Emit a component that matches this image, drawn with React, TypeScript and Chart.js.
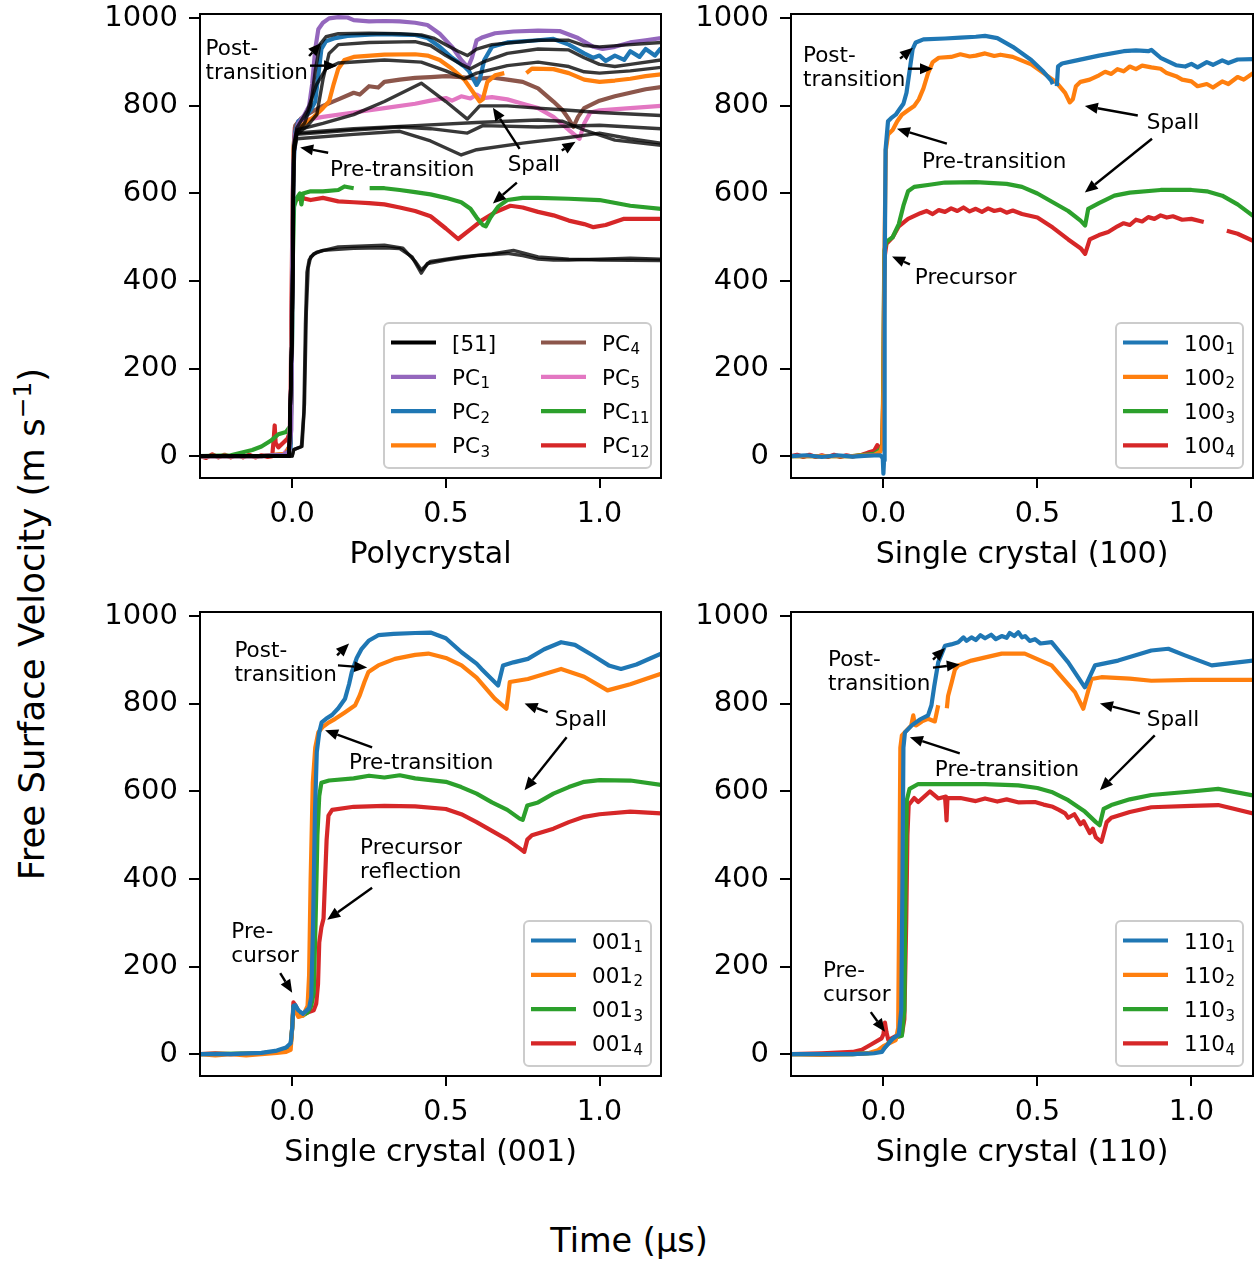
import React, { useEffect, useRef } from "react";
import { Chart, registerables } from "chart.js";
Chart.register(...registerables);

type Pt = [number, number | null];

// ---------- axes ----------
const xTicks = [0, 0.5, 1.0];
const yTicks = [0, 200, 400, 600, 800, 1000];
const xRange: [number, number] = [-0.3, 1.2];
const yRange: [number, number] = [-50, 1010];
const panelTitles = ["Polycrystal", "Single crystal (100)", "Single crystal (001)", "Single crystal (110)"];

// ---------- Polycrystal: literature traces [51] ----------
const ref51a: Pt[] = [[-0.3,0],[-0.01,0],[0.0,300],[0.005,700],[0.015,740],[0.04,760],[0.06,800],[0.075,880],[0.09,940],[0.11,958],[0.15,965],[0.25,966],[0.35,965],[0.42,962],[0.46,955],[0.5,940],[0.54,925],[0.57,915],[0.6,930],[0.65,940],[0.72,945],[0.8,950],[0.9,950],[0.95,938],[1.0,935],[1.1,940],[1.2,945]];
const ref51b: Pt[] = [[-0.3,0],[-0.01,0],[0.0,300],[0.005,690],[0.015,735],[0.05,755],[0.08,780],[0.1,860],[0.12,920],[0.15,940],[0.25,945],[0.4,947],[0.45,938],[0.5,915],[0.55,895],[0.58,885],[0.62,900],[0.7,920],[0.8,930],[0.9,928],[0.95,910],[1.0,895],[1.05,890],[1.1,895],[1.2,905]];
const ref51c: Pt[] = [[-0.3,0],[-0.01,0],[0.0,300],[0.005,700],[0.015,745],[0.1,760],[0.2,780],[0.3,810],[0.42,852],[0.5,810],[0.57,770],[0.61,800],[0.7,800],[0.8,795],[0.9,790],[1.0,785],[1.2,778]];
const ref51d: Pt[] = [[-0.3,0],[-0.01,0],[0.0,300],[0.005,700],[0.015,735],[0.2,745],[0.35,752],[0.45,748],[0.57,738],[0.62,755],[0.8,752],[1.0,756],[1.2,748]];
const ref51e: Pt[] = [[-0.3,0],[-0.01,0],[0.0,300],[0.005,690],[0.015,725],[0.2,735],[0.35,742],[0.45,720],[0.55,688],[0.6,700],[0.75,715],[0.9,728],[1.0,738],[1.1,725],[1.2,715]];
const ref51f: Pt[] = [[-0.3,0],[-0.01,0],[0.0,300],[0.005,700],[0.015,738],[0.2,748],[0.4,755],[0.6,762],[0.8,768],[0.88,765],[0.95,745],[1.05,722],[1.2,710]];
const ref51g: Pt[] = [[-0.3,0],[-0.01,0],[0.0,300],[0.005,710],[0.015,750],[0.05,790],[0.08,850],[0.11,885],[0.15,898],[0.3,905],[0.42,900],[0.5,880],[0.56,862],[0.6,875],[0.7,892],[0.8,900],[0.9,890],[0.95,878],[1.0,875],[1.1,880],[1.2,888]];
const ref51h: Pt[] = [[-0.3,0],[0.0,0],[0.005,15],[0.03,22],[0.038,100],[0.043,300],[0.048,420],[0.055,448],[0.07,462],[0.1,470],[0.2,475],[0.3,476],[0.35,474],[0.39,455],[0.42,418],[0.44,440],[0.5,448],[0.6,458],[0.7,463],[0.75,458],[0.8,450],[0.85,448],[0.9,448],[1.0,450],[1.1,452],[1.2,450]];
const ref51i: Pt[] = [[-0.3,0],[0.0,0],[0.005,15],[0.032,22],[0.04,120],[0.046,330],[0.052,430],[0.06,455],[0.08,466],[0.15,478],[0.3,482],[0.36,475],[0.4,445],[0.42,425],[0.45,445],[0.55,455],[0.65,462],[0.72,470],[0.8,455],[0.9,450],[1.0,448],[1.2,447]];

// ---------- Polycrystal: this work ----------
const pc1: Pt[] = [[-0.3,0],[-0.1,0],[-0.03,3],[-0.01,10],[-0.003,60],[0.0,400],[0.003,650],[0.008,730],[0.02,760],[0.04,780],[0.055,800],[0.065,850],[0.075,930],[0.085,975],[0.1,990],[0.12,1000],[0.15,1003],[0.18,1002],[0.2,996],[0.25,993],[0.3,994],[0.35,993],[0.4,990],[0.44,985],[0.48,965],[0.52,935],[0.55,905],[0.572,888],[0.585,910],[0.6,950],[0.62,957],[0.66,966],[0.72,970],[0.8,972],[0.87,971],[0.93,955],[0.98,935],[1.01,930],[1.05,935],[1.1,945],[1.15,950],[1.2,955]];
const pc2: Pt[] = [[-0.3,0],[-0.1,0],[-0.02,3],[-0.005,20],[0.0,300],[0.004,650],[0.01,740],[0.02,765],[0.04,775],[0.06,790],[0.075,810],[0.085,870],[0.095,930],[0.11,948],[0.14,955],[0.18,960],[0.25,963],[0.3,964],[0.35,963],[0.4,962],[0.44,955],[0.48,935],[0.52,910],[0.56,890],[0.575,880],[0.6,848],[0.61,860],[0.625,905],[0.65,935],[0.7,945],[0.8,950],[0.85,953],[0.9,940],[0.95,920],[0.98,910],[1.0,915],[1.02,903],[1.05,915],[1.08,905],[1.1,925],[1.13,912],[1.15,930],[1.18,915],[1.2,932]];
const pc3: Pt[] = [[-0.3,0],[-0.1,0],[-0.02,5],[-0.005,30],[0.0,350],[0.003,650],[0.006,720],[0.015,745],[0.04,760],[0.07,775],[0.1,795],[0.12,810],[0.135,850],[0.15,885],[0.17,905],[0.2,912],[0.3,917],[0.4,918],[0.44,915],[0.48,905],[0.52,885],[0.56,860],[0.59,830],[0.61,810],[0.62,815],[0.635,855],[0.66,870],[0.69,875],[0.7,null],[0.76,null],[0.762,875],[0.78,885],[0.85,884],[0.9,875],[0.95,860],[1.0,855],[1.05,858],[1.1,862],[1.15,868],[1.2,872]];
const pc4: Pt[] = [[-0.3,0],[-0.1,0],[-0.02,5],[-0.005,30],[0.0,400],[0.004,700],[0.01,755],[0.03,772],[0.06,785],[0.1,800],[0.15,815],[0.2,830],[0.22,826],[0.25,845],[0.28,842],[0.3,855],[0.35,860],[0.4,864],[0.45,866],[0.5,868],[0.55,866],[0.6,862],[0.65,865],[0.7,860],[0.75,855],[0.8,840],[0.85,810],[0.88,790],[0.9,770],[0.915,752],[0.93,775],[0.95,795],[1.0,812],[1.05,822],[1.1,830],[1.15,838],[1.2,843]];
const pc5: Pt[] = [[-0.3,0],[-0.1,0],[-0.03,3],[-0.01,20],[-0.002,200],[0.002,600],[0.008,750],[0.02,765],[0.1,775],[0.2,785],[0.3,795],[0.4,805],[0.45,812],[0.5,818],[0.52,812],[0.55,822],[0.58,817],[0.6,826],[0.62,818],[0.65,820],[0.7,815],[0.75,805],[0.8,795],[0.85,775],[0.9,745],[0.935,725],[0.95,760],[0.97,785],[1.0,790],[1.1,795],[1.2,800]];
const pc11: Pt[] = [[-0.3,0],[-0.2,2],[-0.13,14],[-0.1,22],[-0.07,35],[-0.045,50],[-0.02,55],[-0.005,70],[-0.002,150],[0.002,450],[0.006,570],[0.015,590],[0.025,600],[0.03,575],[0.035,600],[0.06,605],[0.1,605],[0.15,608],[0.17,616],[0.2,612],[0.21,null],[0.25,null],[0.252,612],[0.3,612],[0.35,608],[0.4,603],[0.45,598],[0.5,590],[0.55,580],[0.58,565],[0.6,545],[0.62,528],[0.63,525],[0.645,545],[0.67,570],[0.7,585],[0.75,590],[0.8,590],[0.9,588],[1.0,585],[1.1,572],[1.2,565]];
const pc12: Pt[] = [[-0.3,0],[-0.28,-4],[-0.26,4],[-0.24,-3],[-0.22,3],[-0.2,-3],[-0.18,3],[-0.16,-3],[-0.14,3],[-0.12,-3],[-0.1,2],[-0.08,-2],[-0.065,0],[-0.06,40],[-0.057,70],[-0.054,30],[-0.045,20],[-0.03,30],[-0.015,40],[-0.006,60],[-0.003,300],[0.0,500],[0.004,570],[0.01,585],[0.03,590],[0.06,585],[0.1,590],[0.15,582],[0.2,580],[0.25,578],[0.3,575],[0.35,568],[0.4,560],[0.45,548],[0.5,520],[0.54,496],[0.58,518],[0.62,540],[0.66,557],[0.71,572],[0.75,568],[0.8,558],[0.85,550],[0.9,538],[0.95,530],[0.98,523],[1.02,528],[1.08,542],[1.2,542]];

// ---------- Single crystal (100) ----------
const s100a: Pt[] = [[-0.3,0],[-0.25,2],[-0.2,-2],[-0.15,2],[-0.1,-1],[-0.05,1],[-0.01,2],[-0.002,-5],[0.0,-40],[0.002,-10],[0.004,400],[0.007,700],[0.015,765],[0.025,772],[0.04,780],[0.05,790],[0.065,805],[0.075,830],[0.085,880],[0.095,930],[0.105,945],[0.13,952],[0.2,954],[0.25,956],[0.3,958],[0.33,960],[0.37,955],[0.42,935],[0.48,905],[0.52,878],[0.545,858],[0.55,850],[0.553,null],[0.562,null],[0.563,845],[0.567,890],[0.58,897],[0.62,903],[0.7,915],[0.78,925],[0.82,927],[0.86,925],[0.87,928],[0.9,910],[0.95,893],[0.98,890],[1.0,896],[1.02,888],[1.05,900],[1.07,894],[1.1,904],[1.12,898],[1.15,906],[1.2,907]];
const s100b: Pt[] = [[-0.3,0],[-0.1,0],[-0.03,3],[-0.01,10],[-0.003,25],[0.0,150],[0.004,500],[0.008,700],[0.015,735],[0.03,745],[0.045,765],[0.06,780],[0.08,790],[0.1,800],[0.115,815],[0.13,840],[0.145,875],[0.16,900],[0.18,910],[0.22,912],[0.25,918],[0.28,913],[0.3,915],[0.33,920],[0.36,914],[0.38,917],[0.42,912],[0.48,895],[0.52,875],[0.56,855],[0.59,830],[0.605,808],[0.615,815],[0.625,845],[0.64,855],[0.67,860],[0.7,870],[0.72,878],[0.74,873],[0.76,884],[0.78,879],[0.8,890],[0.82,884],[0.84,892],[0.87,888],[0.9,885],[0.92,875],[0.95,868],[0.97,860],[1.0,856],[1.02,845],[1.05,850],[1.07,842],[1.1,856],[1.12,850],[1.15,866],[1.17,860],[1.2,875]];
const s100c: Pt[] = [[-0.3,0],[-0.1,0],[-0.03,5],[-0.01,15],[-0.003,25],[0.0,200],[0.003,470],[0.01,490],[0.03,500],[0.05,530],[0.065,572],[0.08,605],[0.1,615],[0.15,620],[0.2,625],[0.3,626],[0.4,622],[0.45,615],[0.5,600],[0.55,580],[0.6,560],[0.64,538],[0.655,527],[0.665,565],[0.7,578],[0.75,595],[0.8,602],[0.9,608],[1.0,608],[1.05,605],[1.1,595],[1.15,575],[1.2,549]];
const s100d: Pt[] = [[-0.3,0],[-0.28,3],[-0.26,-2],[-0.24,3],[-0.22,-2],[-0.2,2],[-0.18,-2],[-0.16,3],[-0.14,-2],[-0.12,2],[-0.1,-1],[-0.07,3],[-0.05,8],[-0.03,12],[-0.02,25],[-0.012,18],[-0.004,25],[0.0,150],[0.003,450],[0.01,485],[0.03,500],[0.05,525],[0.08,542],[0.12,555],[0.14,560],[0.16,553],[0.18,562],[0.2,558],[0.22,566],[0.24,560],[0.26,568],[0.28,559],[0.3,565],[0.32,558],[0.34,566],[0.36,560],[0.38,563],[0.4,556],[0.42,561],[0.45,553],[0.5,545],[0.55,522],[0.6,495],[0.64,475],[0.655,462],[0.67,495],[0.7,505],[0.73,512],[0.76,525],[0.78,532],[0.8,528],[0.82,540],[0.84,536],[0.86,546],[0.88,542],[0.9,550],[0.92,545],[0.94,548],[0.97,540],[1.0,542],[1.04,535],[1.045,null],[1.11,null],[1.115,515],[1.15,508],[1.2,492]];

// ---------- Single crystal (001) ----------
const s001a: Pt[] = [[-0.3,0],[-0.2,0],[-0.1,3],[-0.05,8],[-0.02,15],[-0.005,25],[0.0,60],[0.004,110],[0.01,112],[0.02,100],[0.035,92],[0.055,105],[0.062,130],[0.068,300],[0.074,550],[0.08,690],[0.088,735],[0.096,758],[0.11,766],[0.13,775],[0.15,790],[0.172,812],[0.185,845],[0.194,873],[0.21,905],[0.226,926],[0.25,945],[0.28,957],[0.33,960],[0.4,962],[0.45,963],[0.5,950],[0.551,918],[0.6,892],[0.616,880],[0.67,842],[0.686,888],[0.72,895],[0.767,903],[0.82,925],[0.875,941],[0.92,935],[0.98,910],[1.03,888],[1.07,880],[1.12,890],[1.2,915]];
const s001b: Pt[] = [[-0.3,0],[-0.25,-3],[-0.2,0],[-0.15,-3],[-0.1,0],[-0.05,3],[-0.02,5],[-0.005,10],[0.0,60],[0.004,105],[0.01,100],[0.02,85],[0.035,88],[0.05,110],[0.055,180],[0.06,400],[0.067,620],[0.075,700],[0.085,735],[0.1,748],[0.12,758],[0.14,766],[0.17,780],[0.205,797],[0.22,820],[0.235,850],[0.248,873],[0.28,888],[0.334,903],[0.4,912],[0.443,915],[0.5,905],[0.551,888],[0.6,860],[0.659,812],[0.697,789],[0.703,820],[0.708,850],[0.767,857],[0.875,880],[0.95,862],[1.026,831],[1.1,845],[1.2,869]];
const s001c: Pt[] = [[-0.3,0],[-0.1,2],[-0.05,6],[-0.02,12],[-0.005,20],[0.0,60],[0.004,108],[0.01,110],[0.02,95],[0.035,88],[0.05,95],[0.062,110],[0.07,140],[0.076,300],[0.082,500],[0.088,590],[0.095,620],[0.12,625],[0.2,630],[0.25,636],[0.3,632],[0.35,637],[0.4,630],[0.5,622],[0.55,610],[0.6,595],[0.65,575],[0.7,558],[0.74,538],[0.75,535],[0.765,568],[0.8,575],[0.85,595],[0.9,610],[0.95,622],[1.0,626],[1.1,625],[1.2,615]];
const s001d: Pt[] = [[-0.3,0],[-0.25,2],[-0.2,0],[-0.1,2],[-0.05,6],[-0.02,12],[-0.005,20],[0.0,60],[0.004,118],[0.01,112],[0.02,98],[0.035,90],[0.05,95],[0.07,100],[0.078,115],[0.084,160],[0.088,255],[0.095,290],[0.102,310],[0.107,400],[0.112,490],[0.118,545],[0.13,558],[0.2,565],[0.3,567],[0.4,566],[0.5,560],[0.55,548],[0.6,530],[0.65,510],[0.7,490],[0.74,470],[0.755,462],[0.765,490],[0.78,500],[0.85,515],[0.9,530],[0.95,542],[1.0,548],[1.1,554],[1.2,550]];

// ---------- Single crystal (110) ----------
const s110a: Pt[] = [[-0.3,0],[-0.1,0],[-0.03,2],[-0.005,5],[0.005,15],[0.03,35],[0.05,45],[0.058,100],[0.062,400],[0.065,700],[0.07,735],[0.092,751],[0.12,765],[0.145,774],[0.156,797],[0.165,840],[0.178,895],[0.2,933],[0.22,936],[0.243,941],[0.26,952],[0.27,944],[0.286,952],[0.3,946],[0.315,957],[0.33,950],[0.35,958],[0.365,948],[0.384,955],[0.4,951],[0.41,962],[0.425,955],[0.438,964],[0.45,952],[0.46,955],[0.475,944],[0.492,948],[0.51,938],[0.546,941],[0.6,895],[0.654,838],[0.687,888],[0.762,899],[0.87,922],[0.925,926],[0.979,911],[1.066,888],[1.2,899]];
const s110b: Pt[] = [[-0.3,0],[-0.2,-2],[-0.1,0],[-0.05,2],[-0.02,8],[0.0,18],[0.02,25],[0.04,32],[0.048,60],[0.052,400],[0.055,700],[0.06,728],[0.08,743],[0.09,750],[0.097,774],[0.102,752],[0.107,751],[0.125,760],[0.145,766],[0.167,760],[0.178,797],[0.179,null],[0.205,null],[0.206,790],[0.21,818],[0.222,850],[0.232,878],[0.243,888],[0.286,899],[0.384,915],[0.459,915],[0.546,888],[0.622,827],[0.649,789],[0.665,830],[0.676,857],[0.708,861],[0.8,858],[0.87,853],[1.0,855],[1.2,855]];
const s110c: Pt[] = [[-0.3,0],[-0.1,0],[-0.03,3],[0.0,12],[0.02,28],[0.04,38],[0.06,42],[0.068,100],[0.072,400],[0.076,580],[0.085,606],[0.113,617],[0.2,617],[0.33,617],[0.438,614],[0.5,608],[0.546,599],[0.6,580],[0.654,554],[0.69,530],[0.702,523],[0.715,560],[0.74,569],[0.8,582],[0.87,592],[1.0,600],[1.087,606],[1.2,591]];
const s110d: Pt[] = [[-0.3,0],[-0.2,2],[-0.1,5],[-0.07,10],[-0.04,22],[-0.006,36],[0.0,45],[0.005,72],[0.01,50],[0.016,32],[0.037,40],[0.06,45],[0.068,80],[0.074,300],[0.078,500],[0.082,569],[0.1,585],[0.113,576],[0.151,600],[0.178,584],[0.2,588],[0.203,560],[0.205,534],[0.208,585],[0.25,585],[0.3,578],[0.33,584],[0.37,577],[0.4,582],[0.44,575],[0.492,576],[0.52,570],[0.55,565],[0.57,558],[0.59,550],[0.6,540],[0.62,548],[0.64,525],[0.65,532],[0.67,505],[0.68,515],[0.69,495],[0.708,485],[0.725,530],[0.74,540],[0.8,553],[0.87,564],[1.0,567],[1.087,569],[1.2,550]];

// ---------- styles ----------
const C = { blue: "#1f77b4", orange: "#ff7f0e", green: "#2ca02c", red: "#d62728", purple: "#9467bd", brown: "#8c564b", pink: "#e377c2", black: "#000000" };
const FONT = '"DejaVu Sans", "Noto Sans", sans-serif';

type Series = { data: Pt[]; color: string; width: number };
type LegendItem = { color: string; base: string; sub: string };
type Note = { text: string[]; at: [number, number] };
type Arrow = { from: [number, number]; to: [number, number] };
type PanelCfg = {
  plot: { left: number; top: number; w: number; h: number };
  title: string; series: Series[]; legend: LegendItem[]; cols: number; notes: Note[]; arrows: Arrow[];
};

const blk = (d: Pt[]): Series => ({ data: d, color: "rgba(0,0,0,0.78)", width: 3.4 });
const ln = (d: Pt[], c: string): Series => ({ data: d, color: c, width: 4.2 });

const panels: PanelCfg[] = [
  {
    plot: { left: 200, top: 14, w: 461, h: 464 }, title: panelTitles[0], cols: 2,
    series: [blk(ref51a), blk(ref51b), blk(ref51c), blk(ref51d), blk(ref51e), blk(ref51f), blk(ref51g), blk(ref51h), blk(ref51i),
      ln(pc1, C.purple), ln(pc2, C.blue), ln(pc3, C.orange), ln(pc4, C.brown), ln(pc5, C.pink), ln(pc11, C.green), ln(pc12, C.red)],
    legend: [
      { color: C.black, base: "[51]", sub: "" }, { color: C.purple, base: "PC", sub: "1" }, { color: C.blue, base: "PC", sub: "2" }, { color: C.orange, base: "PC", sub: "3" },
      { color: C.brown, base: "PC", sub: "4" }, { color: C.pink, base: "PC", sub: "5" }, { color: C.green, base: "PC", sub: "11" }, { color: C.red, base: "PC", sub: "12" },
    ],
    notes: [{ text: ["Post-", "transition"], at: [-0.282, 930] }, { text: ["Pre-transition"], at: [0.123, 652] }, { text: ["Spall"], at: [0.701, 664] }],
    arrows: [
      { from: [0.055, 914], to: [0.094, 944] }, { from: [0.058, 892], to: [0.146, 892] }, { from: [0.117, 693], to: [0.026, 705] },
      { from: [0.74, 702], to: [0.653, 796] }, { from: [0.877, 698], to: [0.922, 718] }, { from: [0.731, 625], to: [0.653, 577] },
    ],
  },
  {
    plot: { left: 791, top: 14, w: 462, h: 464 }, title: panelTitles[1], cols: 1,
    series: [ln(s100a, C.blue), ln(s100b, C.orange), ln(s100c, C.green), ln(s100d, C.red)],
    legend: [{ color: C.blue, base: "100", sub: "1" }, { color: C.orange, base: "100", sub: "2" }, { color: C.green, base: "100", sub: "3" }, { color: C.red, base: "100", sub: "4" }],
    notes: [{ text: ["Post-", "transition"], at: [-0.261, 914] }, { text: ["Pre-transition"], at: [0.125, 672] }, { text: ["Spall"], at: [0.855, 761] }, { text: ["Precursor"], at: [0.102, 407] }],
    arrows: [
      { from: [0.054, 908], to: [0.096, 933] }, { from: [0.08, 885], to: [0.161, 885] }, { from: [0.206, 714], to: [0.044, 748] },
      { from: [0.826, 778], to: [0.654, 800] }, { from: [0.872, 725], to: [0.654, 602] }, { from: [0.086, 438], to: [0.028, 456] },
    ],
  },
  {
    plot: { left: 200, top: 612, w: 461, h: 464 }, title: panelTitles[2], cols: 1,
    series: [ln(s001a, C.blue), ln(s001b, C.orange), ln(s001c, C.green), ln(s001d, C.red)],
    legend: [{ color: C.blue, base: "001", sub: "1" }, { color: C.orange, base: "001", sub: "2" }, { color: C.green, base: "001", sub: "3" }, { color: C.red, base: "001", sub: "4" }],
    notes: [{ text: ["Post-", "transition"], at: [-0.188, 920] }, { text: ["Pre-transition"], at: [0.185, 663] }, { text: ["Spall"], at: [0.854, 762] },
      { text: ["Precursor", "reflection"], at: [0.221, 471] }, { text: ["Pre-", "cursor"], at: [-0.198, 277] }],
    arrows: [
      { from: [0.146, 911], to: [0.185, 938] }, { from: [0.149, 888], to: [0.244, 883] }, { from: [0.26, 701], to: [0.107, 740] },
      { from: [0.831, 781], to: [0.756, 801] }, { from: [0.893, 724], to: [0.756, 603] }, { from: [0.26, 380], to: [0.114, 307] }, { from: [-0.039, 185], to: [0, 140] },
    ],
  },
  {
    plot: { left: 791, top: 612, w: 462, h: 464 }, title: panelTitles[3], cols: 1,
    series: [ln(s110a, C.blue), ln(s110b, C.orange), ln(s110c, C.green), ln(s110d, C.red)],
    legend: [{ color: C.blue, base: "110", sub: "1" }, { color: C.orange, base: "110", sub: "2" }, { color: C.green, base: "110", sub: "3" }, { color: C.red, base: "110", sub: "4" }],
    notes: [{ text: ["Post-", "transition"], at: [-0.18, 900] }, { text: ["Pre-transition"], at: [0.167, 647] }, { text: ["Spall"], at: [0.855, 762] }, { text: ["Pre-", "cursor"], at: [-0.196, 188] }],
    arrows: [
      { from: [0.161, 901], to: [0.2, 928] }, { from: [0.161, 883], to: [0.248, 890] }, { from: [0.248, 687], to: [0.086, 724] },
      { from: [0.833, 778], to: [0.703, 801] }, { from: [0.881, 728], to: [0.703, 603] }, { from: [-0.041, 96], to: [0.005, 51] },
    ],
  },
];

const PAD_L = 110, PAD_T = 14, PAD_R = 6, PAD_B = 100;

function drawArrow(ctx: CanvasRenderingContext2D, x1: number, y1: number, x2: number, y2: number) {
  const dx = x2 - x1, dy = y2 - y1, L = Math.hypot(dx, dy) || 1;
  const ux = dx / L, uy = dy / L, hl = 13, hw = 5.5;
  const bx = x2 - ux * hl, by = y2 - uy * hl;
  if (L > hl) {
    ctx.lineWidth = 2.4;
    ctx.beginPath(); ctx.moveTo(x1, y1); ctx.lineTo(bx, by); ctx.stroke();
  }
  ctx.beginPath(); ctx.moveTo(x2, y2); ctx.lineTo(bx - uy * hw, by + ux * hw); ctx.lineTo(bx + uy * hw, by - ux * hw); ctx.closePath(); ctx.fill();
}

function makeOverlay(cfg: PanelCfg) {
  return {
    id: "overlay",
    afterDraw(chart: any) {
      const { ctx, chartArea: a, scales } = chart;
      const X = (t: number) => scales.x.getPixelForValue(t);
      const Y = (v: number) => scales.y.getPixelForValue(v);
      ctx.save();
      ctx.strokeStyle = "#000"; ctx.fillStyle = "#000"; ctx.lineCap = "butt";
      // notes
      ctx.font = `21.5px ${FONT}`; ctx.textBaseline = "middle"; ctx.textAlign = "left";
      cfg.notes.forEach((n) => n.text.forEach((s, i) => ctx.fillText(s, X(n.at[0]), Y(n.at[1]) + i * 24)));
      cfg.arrows.forEach((ar) => drawArrow(ctx, X(ar.from[0]), Y(ar.from[1]), X(ar.to[0]), Y(ar.to[1])));
      // frame
      ctx.lineWidth = 2; ctx.strokeRect(a.left, a.top, a.right - a.left, a.bottom - a.top);
      // legend
      const rows = Math.ceil(cfg.legend.length / cfg.cols);
      const colW = 150, w = cfg.cols === 2 ? 267 : 127, h = 145;
      const right = a.right - 10, bottom = a.bottom - 10, left = right - w, top = bottom - h;
      ctx.beginPath(); ctx.roundRect(left, top, w, h, 5);
      ctx.fillStyle = "rgba(255,255,255,0.8)"; ctx.fill();
      ctx.strokeStyle = "#cccccc"; ctx.lineWidth = 2; ctx.stroke();
      cfg.legend.forEach((it, i) => {
        const c = Math.floor(i / rows), r = i % rows;
        const x0 = left + c * colW, yc = top + 19.5 + r * 34.3;
        ctx.strokeStyle = it.color; ctx.lineWidth = 4.2;
        ctx.beginPath(); ctx.moveTo(x0 + 7, yc); ctx.lineTo(x0 + 52, yc); ctx.stroke();
        ctx.fillStyle = "#000"; ctx.textBaseline = "alphabetic";
        ctx.font = `21.5px ${FONT}`;
        const yb = yc + 8;
        ctx.fillText(it.base, x0 + 68, yb);
        if (it.sub) {
          const bw = ctx.measureText(it.base).width;
          ctx.font = `15px ${FONT}`;
          ctx.fillText(it.sub, x0 + 68 + bw + 0.5, yb + 3.5);
        }
      });
      // axis title
      ctx.fillStyle = "#000"; ctx.font = `30px ${FONT}`; ctx.textAlign = "center"; ctx.textBaseline = "middle";
      ctx.fillText(cfg.title, (a.left + a.right) / 2, a.bottom + 77);
      ctx.restore();
    },
  };
}

function Panel({ cfg }: { cfg: PanelCfg }) {
  const ref = useRef<HTMLCanvasElement>(null);
  const W = cfg.plot.w + PAD_L + PAD_R, H = cfg.plot.h + PAD_T + PAD_B;
  useEffect(() => {
    const chart = new Chart(ref.current!, {
      type: "line",
      data: {
        datasets: cfg.series.map((s) => ({
          data: s.data.map(([x, y]) => ({ x, y })) as any,
          borderColor: s.color, borderWidth: s.width, pointRadius: 0, fill: false, tension: 0,
          spanGaps: false, borderJoinStyle: "round" as const, borderCapStyle: "butt" as const,
        })),
      },
      options: {
        animation: false, responsive: false, maintainAspectRatio: false, devicePixelRatio: 1,
        layout: { padding: { left: 0, top: PAD_T, right: PAD_R, bottom: 0 } },
        plugins: { legend: { display: false }, tooltip: { enabled: false } },
        events: [],
        scales: {
          x: {
            type: "linear", min: xRange[0], max: xRange[1],
            afterBuildTicks: (s: any) => { s.ticks = xTicks.map((v) => ({ value: v })); },
            afterFit: (s: any) => { s.height = PAD_B; s.paddingLeft = 0; s.paddingRight = 0; },
            ticks: { callback: (v: any) => Number(v).toFixed(1), color: "#000", font: { family: FONT, size: 28.5 }, padding: 9, maxRotation: 0, autoSkip: false },
            grid: { display: true, drawOnChartArea: false, drawTicks: true, tickLength: 10, color: "#000", lineWidth: 2 },
            border: { display: false },
          },
          y: {
            type: "linear", min: yRange[0], max: yRange[1],
            afterBuildTicks: (s: any) => { s.ticks = yTicks.map((v) => ({ value: v })); },
            afterFit: (s: any) => { s.width = PAD_L; s.paddingTop = 0; s.paddingBottom = 0; },
            ticks: { callback: (v: any) => String(v), color: "#000", font: { family: FONT, size: 29 }, padding: 11, autoSkip: false },
            grid: { display: true, drawOnChartArea: false, drawTicks: true, tickLength: 11, color: "#000", lineWidth: 2 },
            border: { display: false },
          },
        },
      } as any,
      plugins: [makeOverlay(cfg)],
    });
    return () => chart.destroy();
  }, []);
  return (
    <canvas ref={ref} width={W} height={H}
      style={{ position: "absolute", left: cfg.plot.left - PAD_L, top: cfg.plot.top - PAD_T, width: W, height: H }} />
  );
}

export default function App() {
  return (
    <div style={{ position: "absolute", left: 0, top: 0, width: 1257, height: 1264, background: "#fff", overflow: "hidden", fontFamily: FONT, color: "#000" }}>
      {panels.map((p, i) => <Panel key={i} cfg={p} />)}
      <div style={{ position: "absolute", left: 32, top: 624, transform: "translate(-50%,-50%) rotate(-90deg)", fontSize: 35.5, whiteSpace: "nowrap", lineHeight: 1 }}>
        Free Surface Velocity (m s<sup style={{ fontSize: "0.7em", lineHeight: 0, verticalAlign: "0.55em" }}>−1</sup>)
      </div>
      <div style={{ position: "absolute", left: 629, top: 1241, transform: "translate(-50%,-50%)", fontSize: 33.5, whiteSpace: "nowrap", lineHeight: 1 }}>
        Time (μs)
      </div>
    </div>
  );
}
